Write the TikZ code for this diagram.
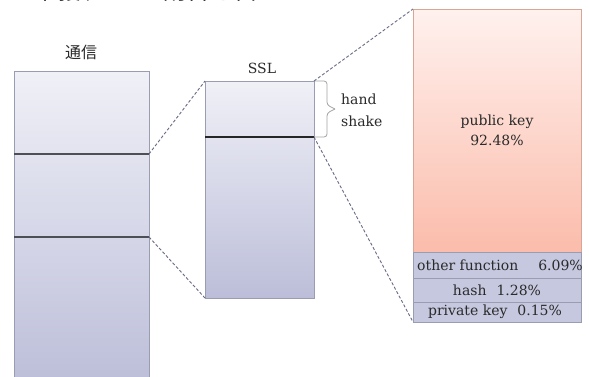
\documentclass[tikz,border=0pt]{standalone}
\usepackage{fontspec}
\setmainfont{DejaVu Serif}
\newfontfamily\cjk{Noto Sans CJK JP}
\definecolor{lavtop}{HTML}{F0F0F7}
\definecolor{lavbot}{HTML}{BCBED9}
\definecolor{rowfill}{HTML}{C6C8DF}
\definecolor{boxline}{HTML}{9A9CB2}
\definecolor{divcol}{HTML}{4E4E56}
\definecolor{linkcol}{HTML}{676B84}
\definecolor{pinktop}{HTML}{FFF1EE}
\definecolor{pinkbot}{HTML}{FBBCAB}
\definecolor{pinkline}{HTML}{D8A697}
\definecolor{txt}{HTML}{2A2A2A}
\definecolor{bracecol}{HTML}{A4A4A4}
\tikzset{
  lav/.style={draw=boxline, line width=0.8pt, top color=lavtop, bottom color=lavbot,
              inner sep=0pt, outer sep=0pt, anchor=north west},
  zone/.style={inner sep=0pt, outer sep=0pt, anchor=north west},
  pinkbox/.style={draw=pinkline, line width=0.8pt, top color=pinktop, bottom color=pinkbot,
              inner sep=0pt, outer sep=0pt, anchor=north west, align=center,
              text=txt, font=\fontsize{14}{20}\selectfont},
  rowbox/.style={draw=boxline, line width=0.8pt, fill=rowfill,
              inner sep=0pt, outer sep=0pt, anchor=north west, minimum width=168pt},
  divider/.style={line width=2pt, draw=divcol},
  link/.style={draw=linkcol, dash pattern=on 3pt off 2pt, line width=0.9pt},
  lbl/.style={font=\fontsize{14}{20}\selectfont, text=txt, inner sep=0pt},
  bracket/.style={draw=bracecol, line width=0.8pt, rounded corners=3pt},
}
\begin{document}
\begin{tikzpicture}[x=1pt, y=-1pt]
\useasboundingbox (0,0) rectangle (589,376);
\clip (0,0) rectangle (589,376);
\fill[white] (0,0) rectangle (589,376);

% caption line above, cut by the top edge
\node[inner sep=0pt, anchor=base west, text=txt, font=\cjk\fontsize{24}{28}\selectfont] (cap) at (-6,-1) {ー　関数がどの割合を占めているか};

% communication column
\node[lav, minimum width=135pt, minimum height=314pt] (comm) at (14,71) {};
\node[zone, minimum width=135pt, minimum height=83pt] (commmid) at (14,154) {};
\draw[divider] (commmid.north west) -- (commmid.north east);
\draw[divider] (commmid.south west) -- (commmid.south east);
\node[lbl, font=\cjk\fontsize{16}{20}\selectfont] (commlbl) at (81,52) {通信};

% SSL column
\node[lav, minimum width=109pt, minimum height=217pt] (ssl) at (205,81) {};
\node[zone, minimum width=109pt, minimum height=56pt] (hs) at (205,81) {};
\draw[line width=1.3pt, draw=black!85] (hs.south west) -- (hs.south east);
\node[lbl] (ssllbl) at (262,68) {SSL};

% handshake bracket
\draw[bracket] (hs.north east) -- ++(13,0) -- ++(0,24) -- ++(8,4);
\draw[bracket] (hs.south east) -- ++(13,0) -- ++(0,-24) -- ++(8,-4);
\node[lbl, anchor=west, align=left, font=\fontsize{14}{22}\selectfont] (hslbl) at (341,110) {hand\\shake};

% breakdown column
\node[pinkbox, minimum width=168pt, minimum height=243pt] (pub) at (413,9) {public key\\92.48\%};
\node[rowbox, minimum height=26pt] (other) at (413,252) {};
\node[rowbox, minimum height=24pt] (hash) at (413,278) {};
\node[rowbox, minimum height=20pt] (priv) at (413,302) {};
\node[lbl, anchor=west] (otherlbl) at ([xshift=4pt]other.west) {other function};
\node[lbl, anchor=east] (otherval) at ([xshift=2pt]other.east) {6.09\%};
\node[lbl] (hashlbl) at (hash.center) {hash\hspace{10pt}1.28\%};
\node[lbl] (privlbl) at ([xshift=-2pt]priv.center) {private key\hspace{10pt}0.15\%};

% zoom connectors
\draw[link] (commmid.north east) -- (ssl.north west);
\draw[link] (commmid.south east) -- (ssl.south west);
\draw[link] (ssl.north east) -- (pub.north west);
\draw[link] (hs.south east) -- (priv.south west);
\end{tikzpicture}
\end{document}
